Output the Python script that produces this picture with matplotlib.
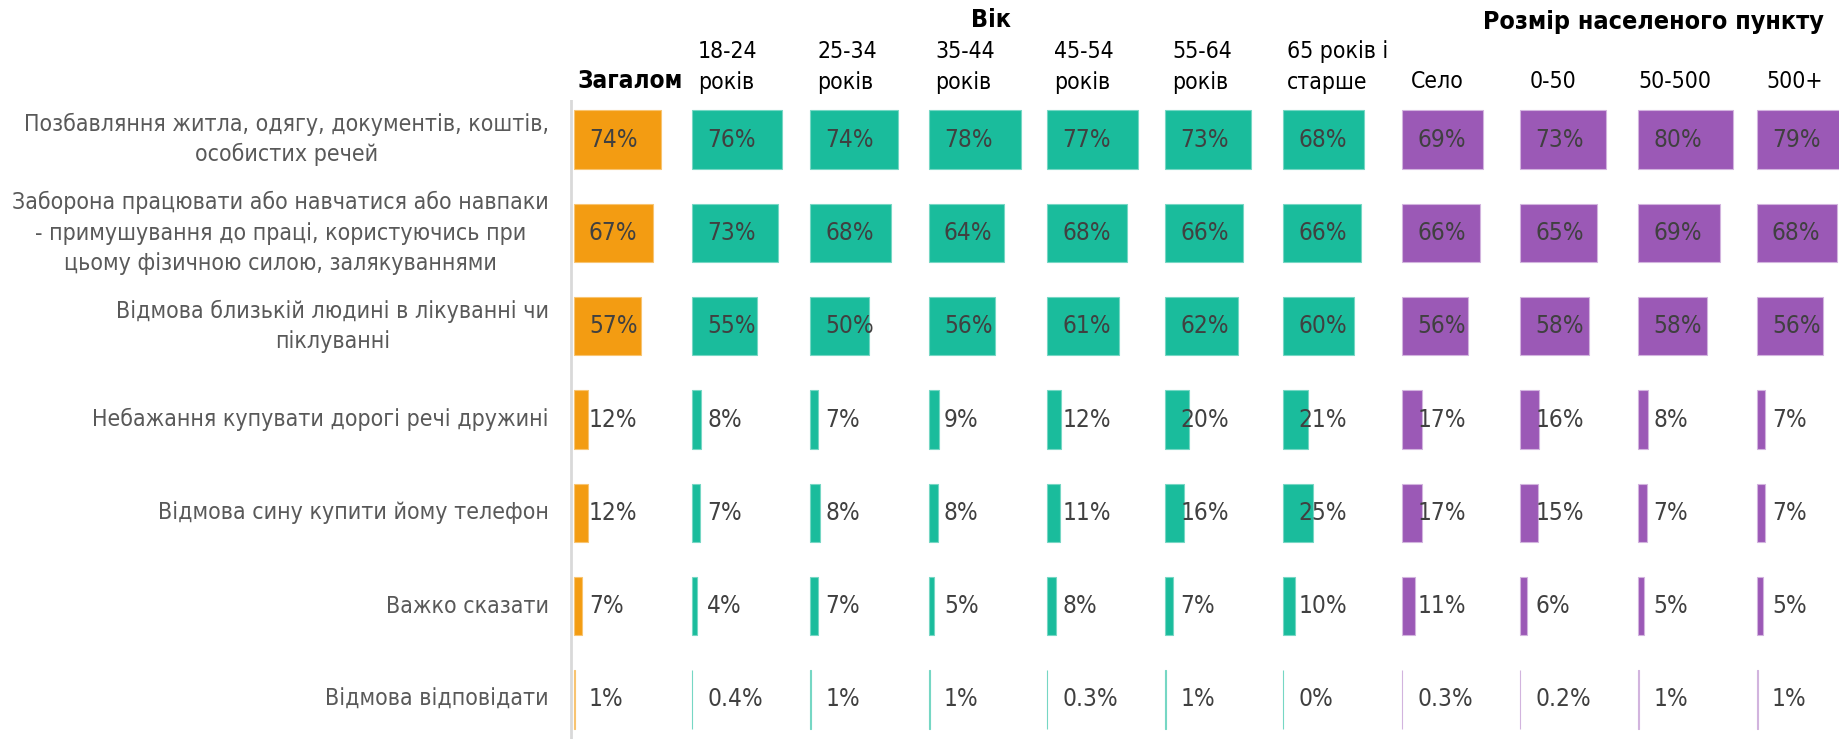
import numpy as np
import matplotlib
matplotlib.use("Agg")
import matplotlib.pyplot as plt
from matplotlib.transforms import blended_transform_factory

# row labels (top to bottom)
row_labels = [
    "Позбавляння житла, одягу, документів, коштів,\nособистих речей",
    "Заборона працювати або навчатися або навпаки\n- примушування до праці, користуючись при\nцьому фізичною силою, залякуваннями",
    "Відмова близькій людині в лікуванні чи\nпіклуванні",
    "Небажання купувати дорогі речі дружині",
    "Відмова сину купити йому телефон",
    "Важко сказати",
    "Відмова відповідати",
]

col_labels = ["Загалом", "18-24\nроків", "25-34\nроків", "35-44\nроків", "45-54\nроків",
              "55-64\nроків", "65 років і\nстарше", "Село", "0-50", "50-500", "500+"]

# values per column, rows top to bottom
total = [74, 67, 57, 12, 12, 7, 1]
age_18_24 = [76, 73, 55, 8, 7, 4, 0.4]
age_25_34 = [74, 68, 50, 7, 8, 7, 1]
age_35_44 = [78, 64, 56, 9, 8, 5, 1]
age_45_54 = [77, 68, 61, 12, 11, 8, 0.3]
age_55_64 = [73, 66, 62, 20, 16, 7, 1]
age_65 = [68, 66, 60, 21, 25, 10, 0]
village = [69, 66, 56, 17, 17, 11, 0.3]
city_0_50 = [73, 65, 58, 16, 15, 6, 0.2]
city_50_500 = [80, 69, 58, 8, 7, 5, 1]
city_500 = [79, 68, 56, 7, 7, 5, 1]

columns = [total, age_18_24, age_25_34, age_35_44, age_45_54, age_55_64, age_65,
           village, city_0_50, city_50_500, city_500]

ORANGE = "#F39C12"
TEAL = "#1ABC9C"
PURPLE = "#9B59B6"
col_colors = [ORANGE] + [TEAL] * 6 + [PURPLE] * 4
edge_colors = ["#F8C471"] + ["#76D7C4"] * 6 + ["#D2B4DE"] * 4

# header x offsets (from panel start)
header_dx = [3, 5, 6, 6, 6, 6, 3, 8, 8, 0, 8]

font = dict(family="DejaVu Sans", stretch="condensed")

W, H = 1839, 739
fig = plt.figure(figsize=(W / 100, H / 100), dpi=100)

px_per_unit = 1.183
x0_px = 573.6
xmin = -3
left = (x0_px + xmin * px_per_unit) / W
xmax = (W - x0_px) / px_per_unit
ax = fig.add_axes([left, 0, 1 - left, 639 / H])
ax.set_xlim(xmin, xmax)
ax.set_ylim(6.424, -0.424)
ax.axis("off")

n_rows = len(row_labels)
y = np.arange(n_rows)
panel_w = 100

for j, vals in enumerate(columns):
    off = j * panel_w
    ax.barh(y, vals, left=off, height=0.624, color=col_colors[j],
            edgecolor=edge_colors[j], linewidth=0.8)
    for i, v in enumerate(vals):
        txt = f"{v:g}%" if 0 < v < 1 else f"{v:.0f}%"
        ax.text(off + 13, i, txt, ha="left", va="center", fontsize=17.5,
                color="#404040", **font)

# light vertical axis line
ax.axvline(-2, color="#D9D9D9", linewidth=2)

# row labels
for i, lab in enumerate(row_labels):
    fig.text(549 / W, 1 - (139.6 + 93.3 * i) / H, lab, ha="right", va="center",
             multialignment="center", fontsize=16.6, color="#595959",
             linespacing=1.4, **font)

# column headers
tr = blended_transform_factory(ax.transData, fig.transFigure)
for j, lab in enumerate(col_labels):
    xh = j * panel_w + header_dx[j]
    if "\n" in lab:
        ax.text(xh, 1 - 67 / H, lab, transform=tr, ha="left", va="center",
                fontsize=16.5, color="black", linespacing=1.4, **font)
    else:
        bold = j == 0
        ax.text(xh, 1 - 81 / H, lab, transform=tr, ha="left", va="center",
                fontsize=17.5 if bold else 16.5, color="black",
                fontweight="bold" if bold else "normal", **font)

fig.text(991 / W, 1 - 20 / H, "Вік", ha="center", va="center",
         fontsize=18, fontweight="bold", **font)
fig.text(1653 / W, 1 - 22 / H, "Розмір населеного пункту",
         ha="center", va="center", fontsize=18, fontweight="bold", **font)

fig.savefig("out.png", dpi=100)
